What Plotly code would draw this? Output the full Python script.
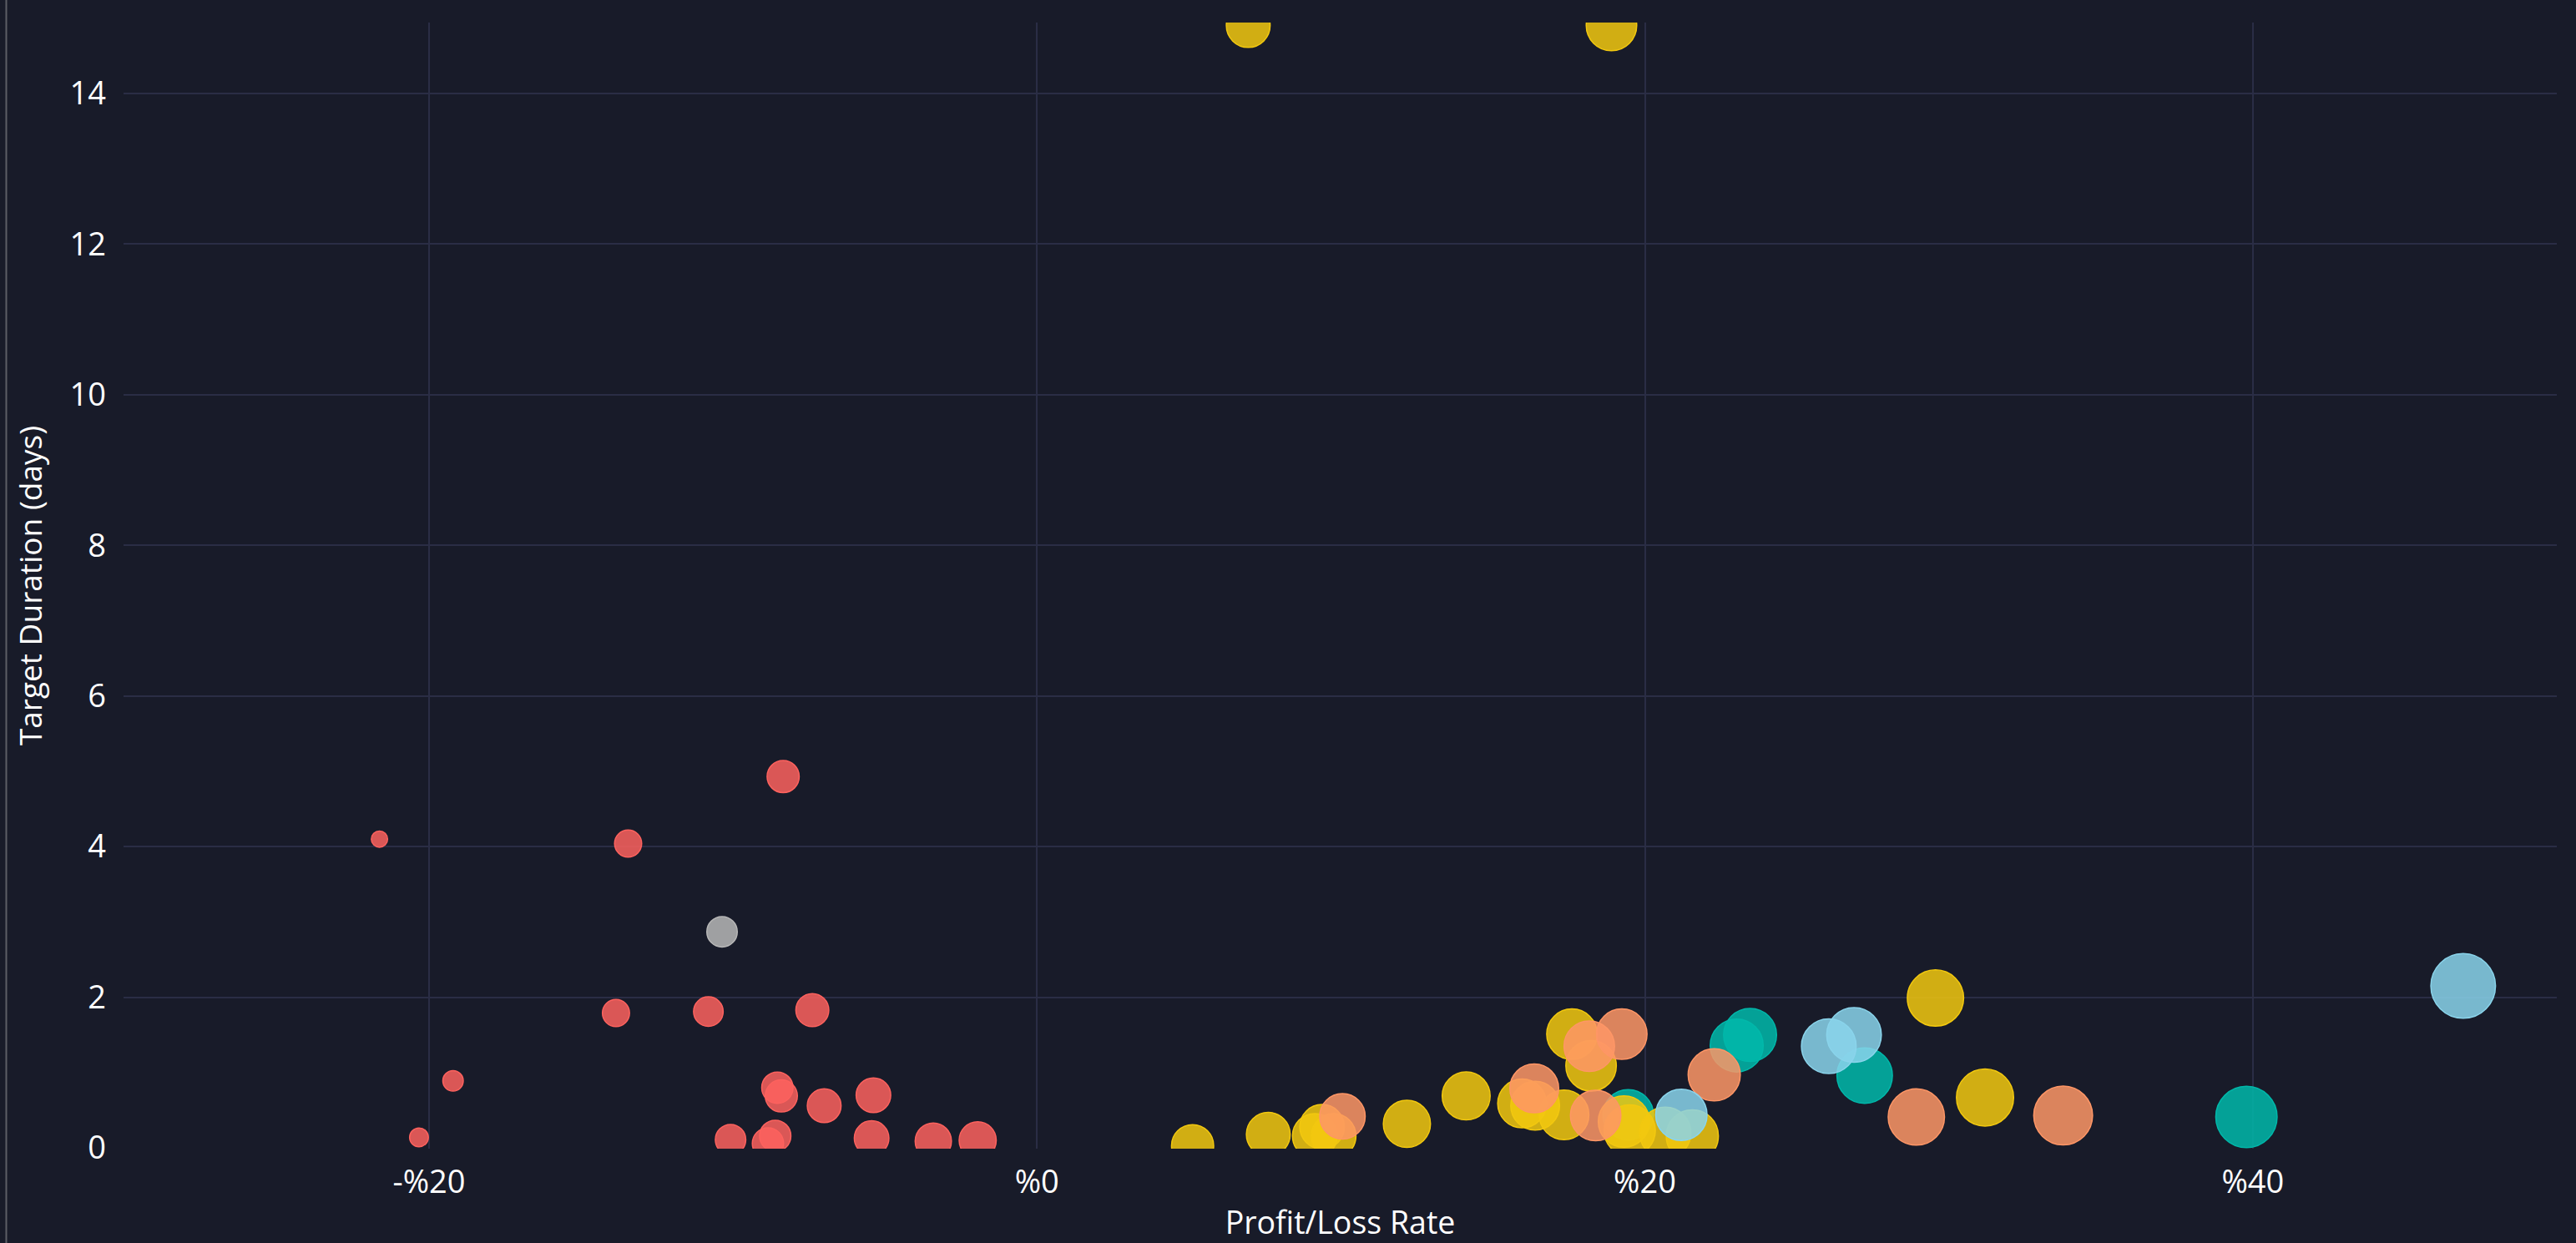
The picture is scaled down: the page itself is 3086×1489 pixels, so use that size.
import plotly.graph_objects as go
import numpy as np

# ---------------- data ----------------
# x = profit/loss rate in %, y = target duration in days, s = bubble size value
red_x = [-21.63, -20.33, -19.21, -13.45, -13.85, -10.81, -8.35, -7.39, -8.54, -8.41,
         -7.0, -5.38, -10.08, -8.61, -8.85, -5.44, -3.41, -1.95]
red_y = [4.10, 0.14, 0.89, 4.04, 1.79, 1.81, 4.93, 1.83, 0.80, 0.69,
         0.56, 0.70, 0.11, 0.16, 0.06, 0.13, 0.09, 0.10]
red_s = [21, 24, 26, 34, 34, 37, 40, 41, 39, 40, 42, 43, 38, 39, 39, 43, 45, 46]

gray_x = [-10.36]
gray_y = [2.87]
gray_s = [38]

yellow_x = [5.12, 7.61, 9.38, 9.14, 9.76, 12.17, 14.12, 15.96, 16.39, 17.34,
            17.6, 18.23, 19.31, 19.5, 20.67, 21.56, 29.56, 31.19, 6.95, 18.9]
yellow_y = [0.03, 0.18, 0.28, 0.16, 0.16, 0.32, 0.69, 0.59, 0.56, 0.44,
            1.51, 1.09, 0.35, 0.23, 0.20, 0.16, 1.99, 0.67, 14.9, 14.9]
yellow_s = [52, 54, 55, 55, 55, 58, 59, 60, 60, 61,
            62, 62, 63, 63, 63, 64, 69, 70, 54, 62]

salmon_x = [10.05, 16.36, 18.17, 18.38, 19.24, 22.28, 28.93, 33.76]
salmon_y = [0.42, 0.79, 1.35, 0.43, 1.51, 0.97, 0.41, 0.43]
salmon_s = [56, 60, 62, 62, 62, 64, 69, 72]

teal_x = [19.45, 23.02, 23.46, 27.23, 39.79]
teal_y = [0.44, 1.36, 1.50, 0.96, 0.41]
teal_s = [62, 65, 65, 68, 75]

blue_x = [21.2, 26.05, 26.88, 46.92]
blue_y = [0.44, 1.35, 1.50, 2.15]
blue_s = [63, 67, 67, 79]

x_tick_vals = [-20, 0, 20, 40]
x_tick_text = ["-%20", "%0", "%20", "%40"]
y_tick_vals = [0, 2, 4, 6, 8, 10, 12, 14]

x_title = "Profit/Loss Rate"
y_title = "Target Duration (days)"

# ---------------- styling ----------------
BG = "#181b29"
GRID = "#2a2d45"
FONT = "Segoe UI, Open Sans, sans-serif"

# drawing order chosen to match the overlaps in the reference
groups = [
    (red_x, red_y, red_s, "253,98,94"),
    (gray_x, gray_y, gray_s, "183,183,183"),
    (teal_x, teal_y, teal_s, "1,184,170"),
    (yellow_x, yellow_y, yellow_s, "242,200,15"),
    (salmon_x, salmon_y, salmon_s, "254,150,102"),
    (blue_x, blue_y, blue_s, "138,212,235"),
]

fig = go.Figure()
for gx, gy, gs, rgb in groups:
    fig.add_trace(go.Scatter(
        x=gx, y=gy, mode="markers",
        marker=dict(
            size=np.array(gs, dtype=float) - 1.5,
            sizemode="diameter", sizeref=1,
            opacity=1,
            color=f"rgba({rgb},0.85)",
            line=dict(color=f"rgb({rgb})", width=1.5),
        ),
        showlegend=False, hoverinfo="x+y",
    ))

W, H = 3086, 1489
ML, MR, MT, MB = 148, 23, 27, 113

fig.update_layout(
    width=W, height=H,
    margin=dict(l=ML, r=MR, t=MT, b=MB, autoexpand=False),
    paper_bgcolor=BG, plot_bgcolor=BG,
    font=dict(family=FONT, color="#ffffff", size=37),
    xaxis=dict(
        range=[-30.05, 50.0],
        tickvals=x_tick_vals, ticktext=x_tick_text,
        showgrid=True, gridcolor=GRID, gridwidth=1.5,
        zeroline=False, showline=False, automargin=False,
        ticks="", ticklabelstandoff=14,
        tickfont=dict(size=38, color="#ffffff"),
        title=dict(text=x_title, font=dict(size=37.5, color="#ffffff"), standoff=13),
    ),
    yaxis=dict(
        range=[-0.01, 14.94],
        tickvals=y_tick_vals,
        showgrid=True, gridcolor=GRID, gridwidth=2,
        zeroline=False, showline=False, automargin=False,
        ticks="", ticklabelstandoff=20,
        tickfont=dict(size=38, color="#ffffff"),
        title=dict(text=y_title, font=dict(size=37, color="#ffffff"), standoff=21),
    ),
)

# thin container border at the far left
x_px = 7.5
fig.add_shape(
    type="line", xref="paper", yref="paper",
    x0=(x_px - ML) / (W - ML - MR), x1=(x_px - ML) / (W - ML - MR),
    y0=-(MB) / (H - MT - MB), y1=1 + MT / (H - MT - MB),
    line=dict(color="#5c5e66", width=2),
)

fig.write_html(
    "out.html",
    config={"displayModeBar": False, "responsive": False},
    post_script="document.body.style.margin='0';document.body.style.overflow='hidden';"
                "document.body.style.background='" + BG + "';",
)
